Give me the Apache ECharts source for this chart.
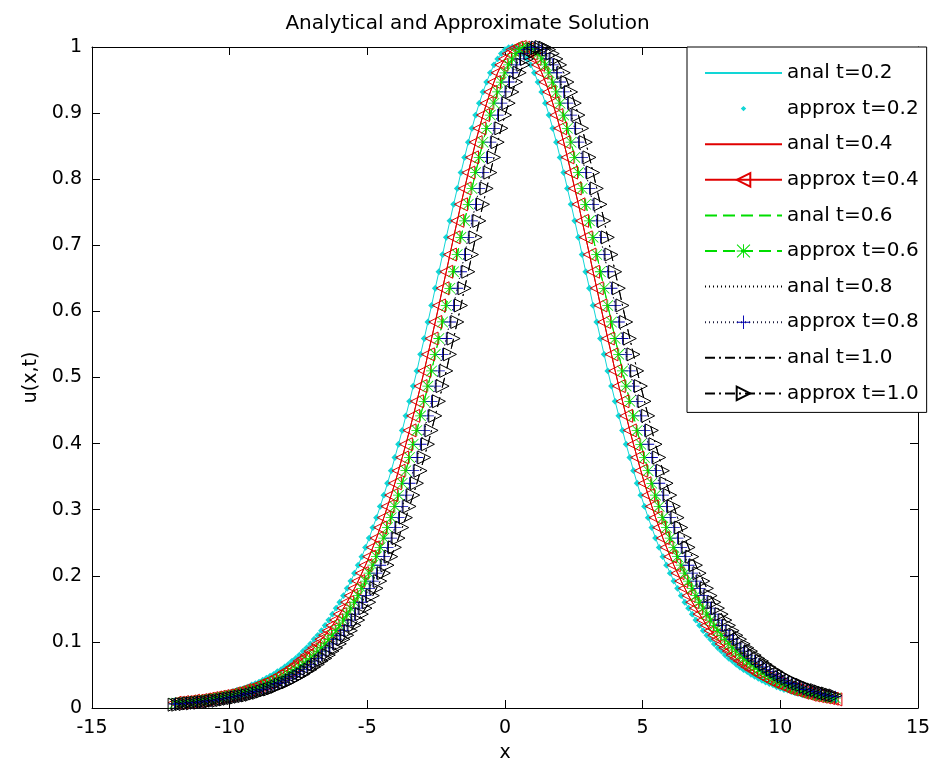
<!DOCTYPE html>
<html>
<head>
<meta charset="utf-8">
<script src="https://cdn.jsdelivr.net/npm/echarts@6.0.0/dist/echarts.min.js"></script>
<style>
html,body{margin:0;padding:0;background:#fff;}
#chart{width:935px;height:774px;}
</style>
</head>
<body>
<div id="chart"></div>
<script>
// x grid shared by all curves
var xs = [
-12,-11.867,-11.733,-11.6,-11.467,-11.333,-11.2,-11.067,-10.933,-10.8,-10.667,-10.533,-10.4,-10.267,-10.133,
-10,-9.867,-9.733,-9.6,-9.467,-9.333,-9.2,-9.067,-8.933,-8.8,-8.667,-8.533,-8.4,-8.267,-8.133,
-8,-7.867,-7.733,-7.6,-7.467,-7.333,-7.2,-7.067,-6.933,-6.8,-6.667,-6.533,-6.4,-6.267,-6.133,
-6,-5.867,-5.733,-5.6,-5.467,-5.333,-5.2,-5.067,-4.933,-4.8,-4.667,-4.533,-4.4,-4.267,-4.133,
-4,-3.867,-3.733,-3.6,-3.467,-3.333,-3.2,-3.067,-2.933,-2.8,-2.667,-2.533,-2.4,-2.267,-2.133,
-2,-1.867,-1.733,-1.6,-1.467,-1.333,-1.2,-1.067,-0.933,-0.8,-0.667,-0.533,-0.4,-0.267,-0.133,
0,0.133,0.267,0.4,0.533,0.667,0.8,0.933,1.067,1.2,1.333,1.467,1.6,1.733,1.867,
2,2.133,2.267,2.4,2.533,2.667,2.8,2.933,3.067,3.2,3.333,3.467,3.6,3.733,3.867,
4,4.133,4.267,4.4,4.533,4.667,4.8,4.933,5.067,5.2,5.333,5.467,5.6,5.733,5.867,
6,6.133,6.267,6.4,6.533,6.667,6.8,6.933,7.067,7.2,7.333,7.467,7.6,7.733,7.867,
8,8.133,8.267,8.4,8.533,8.667,8.8,8.933,9.067,9.2,9.333,9.467,9.6,9.733,9.867,
10,10.133,10.267,10.4,10.533,10.667,10.8,10.933,11.067,11.2,11.333,11.467,11.6,11.733,11.867,
12];

// u(x,t) at t = 0.2
var u02 = [
.009,.009,
.010,.011,.011,.012,.013,.014,.015,.016,.017,.018,
.019,.020,.022,.023,.025,.027,.028,.030,.032,.035,
.037,.039,.042,.045,.048,.051,.055,.058,.062,.066,
.071,.075,.080,.086,.091,.097,.104,.110,.117,.125,
.133,.142,.151,.160,.170,.181,.192,.204,.216,.229,
.243,.257,.273,.288,.305,.322,.340,.359,.379,.399,
.420,.442,.464,.487,.510,.535,.559,.584,.609,.635,
.660,.686,.712,.737,.762,.786,.810,.833,.856,.877,
.897,.915,.932,.947,.961,.973,.982,.990,.996,.999,
1,
.999,.996,.990,.982,.973,.961,.947,.932,.915,.897,
.877,.856,.833,.810,.786,.762,.737,.712,.686,.660,
.635,.609,.584,.559,.535,.510,.487,.464,.442,.420,
.399,.379,.359,.340,.322,.305,.288,.273,.257,.243,
.229,.216,.204,.192,.181,.170,.160,.151,.142,.133,
.125,.117,.110,.104,.097,.091,.086,.080,.075,.071,
.066,.062,.058,.055,.051,.048,.045,.042,.039,.037,
.035,.032,.030,.028,.027,.025,.023,.022,.020,.019,
.018,.017,.016,.015,.014,.013,.012,.011];

// u(x,t) at t = 0.4
var u04 = [
.008,.008,.009,.009,
.010,.011,.011,.012,.013,.014,.015,.016,.017,.018,
.019,.020,.022,.023,.025,.027,.028,.030,.032,.035,
.037,.039,.042,.045,.048,.051,.055,.058,.062,.066,
.071,.075,.080,.086,.091,.097,.104,.110,.117,.125,
.133,.142,.151,.160,.170,.181,.192,.204,.216,.229,
.243,.257,.273,.288,.305,.322,.340,.359,.379,.399,
.420,.442,.464,.487,.510,.535,.559,.584,.609,.635,
.660,.686,.712,.737,.762,.786,.810,.833,.856,.877,
.897,.915,.932,.947,.961,.973,.982,.990,.996,.999,
1,
.999,.996,.990,.982,.973,.961,.947,.932,.915,.897,
.877,.856,.833,.810,.786,.762,.737,.712,.686,.660,
.635,.609,.584,.559,.535,.510,.487,.464,.442,.420,
.399,.379,.359,.340,.322,.305,.288,.273,.257,.243,
.229,.216,.204,.192,.181,.170,.160,.151,.142,.133,
.125,.117,.110,.104,.097,.091,.086,.080,.075,.071,
.066,.062,.058,.055,.051,.048,.045,.042,.039,.037,
.035,.032,.030,.028,.027,.025,.023,.022,.020,.019,
.018,.017,.016,.015,.014,.013];

// u(x,t) at t = 0.6
var u06 = [
.007,.007,.008,.008,.009,.009,
.010,.011,.011,.012,.013,.014,.015,.016,.017,.018,
.019,.020,.022,.023,.025,.027,.028,.030,.032,.035,
.037,.039,.042,.045,.048,.051,.055,.058,.062,.066,
.071,.075,.080,.086,.091,.097,.104,.110,.117,.125,
.133,.142,.151,.160,.170,.181,.192,.204,.216,.229,
.243,.257,.273,.288,.305,.322,.340,.359,.379,.399,
.420,.442,.464,.487,.510,.535,.559,.584,.609,.635,
.660,.686,.712,.737,.762,.786,.810,.833,.856,.877,
.897,.915,.932,.947,.961,.973,.982,.990,.996,.999,
1,
.999,.996,.990,.982,.973,.961,.947,.932,.915,.897,
.877,.856,.833,.810,.786,.762,.737,.712,.686,.660,
.635,.609,.584,.559,.535,.510,.487,.464,.442,.420,
.399,.379,.359,.340,.322,.305,.288,.273,.257,.243,
.229,.216,.204,.192,.181,.170,.160,.151,.142,.133,
.125,.117,.110,.104,.097,.091,.086,.080,.075,.071,
.066,.062,.058,.055,.051,.048,.045,.042,.039,.037,
.035,.032,.030,.028,.027,.025,.023,.022,.020,.019,
.018,.017,.016,.015];

// u(x,t) at t = 0.8
var u08 = [
.006,.006,.007,.007,.008,.008,.009,.009,
.010,.011,.011,.012,.013,.014,.015,.016,.017,.018,
.019,.020,.022,.023,.025,.027,.028,.030,.032,.035,
.037,.039,.042,.045,.048,.051,.055,.058,.062,.066,
.071,.075,.080,.086,.091,.097,.104,.110,.117,.125,
.133,.142,.151,.160,.170,.181,.192,.204,.216,.229,
.243,.257,.273,.288,.305,.322,.340,.359,.379,.399,
.420,.442,.464,.487,.510,.535,.559,.584,.609,.635,
.660,.686,.712,.737,.762,.786,.810,.833,.856,.877,
.897,.915,.932,.947,.961,.973,.982,.990,.996,.999,
1,
.999,.996,.990,.982,.973,.961,.947,.932,.915,.897,
.877,.856,.833,.810,.786,.762,.737,.712,.686,.660,
.635,.609,.584,.559,.535,.510,.487,.464,.442,.420,
.399,.379,.359,.340,.322,.305,.288,.273,.257,.243,
.229,.216,.204,.192,.181,.170,.160,.151,.142,.133,
.125,.117,.110,.104,.097,.091,.086,.080,.075,.071,
.066,.062,.058,.055,.051,.048,.045,.042,.039,.037,
.035,.032,.030,.028,.027,.025,.023,.022,.020,.019,
.018,.017];

// u(x,t) at t = 1.0
var u10 = [
.005,.005,.006,.006,.007,.007,.008,.008,.009,.009,
.010,.011,.011,.012,.013,.014,.015,.016,.017,.018,
.019,.020,.022,.023,.025,.027,.028,.030,.032,.035,
.037,.039,.042,.045,.048,.051,.055,.058,.062,.066,
.071,.075,.080,.086,.091,.097,.104,.110,.117,.125,
.133,.142,.151,.160,.170,.181,.192,.204,.216,.229,
.243,.257,.273,.288,.305,.322,.340,.359,.379,.399,
.420,.442,.464,.487,.510,.535,.559,.584,.609,.635,
.660,.686,.712,.737,.762,.786,.810,.833,.856,.877,
.897,.915,.932,.947,.961,.973,.982,.990,.996,.999,
1,
.999,.996,.990,.982,.973,.961,.947,.932,.915,.897,
.877,.856,.833,.810,.786,.762,.737,.712,.686,.660,
.635,.609,.584,.559,.535,.510,.487,.464,.442,.420,
.399,.379,.359,.340,.322,.305,.288,.273,.257,.243,
.229,.216,.204,.192,.181,.170,.160,.151,.142,.133,
.125,.117,.110,.104,.097,.091,.086,.080,.075,.071,
.066,.062,.058,.055,.051,.048,.045,.042,.039,.037,
.035,.032,.030,.028,.027,.025,.023,.022,.020,.019];

var seriesNames = ['anal t=0.2','approx t=0.2','anal t=0.4','approx t=0.4','anal t=0.6',
                   'approx t=0.6','anal t=0.8','approx t=0.8','anal t=1.0','approx t=1.0'];
var xTicks = [-15,-10,-5,0,5,10,15];
var yTicks = [0,0.1,0.2,0.3,0.4,0.5,0.6,0.7,0.8,0.9,1];

function pts(ys){ return xs.map(function(x,i){ return [x, ys[i]]; }); }

var FONT = 'DejaVu Sans';
var CYAN = '#12d6d6', RED = '#e00000', GREEN = '#00dd00', BLUE = '#0000b4', BLACK = '#000000';
var DOT = 'path://M0,0L0.01,0L0,0.01Z M20,20L19.99,20L20,19.99Z M10,6L14,10L10,14L6,10Z';
var PLUS = 'path://M9.3,0h1.4v9.3h9.3v1.4h-9.3v9.3h-1.4v-9.3h-9.3v-1.4h9.3z';
var STAR = 'path://M9.3,0h1.4v9.3h9.3v1.4h-9.3v9.3h-1.4v-9.3h-9.3v-1.4h9.3z M0,1L1,0L20,19L19,20Z M19,0L20,1L1,20L0,19Z';
var HIDDEN = {color:'rgba(0,0,0,0)', borderWidth:0};

function anal(name, ys, color, type){
  return {name:name, type:'line', data:pts(ys), symbol:'circle', showSymbol:false,
    itemStyle:HIDDEN, lineStyle:{color:color, width:1, type:type},
    emphasis:{disabled:true}, silent:true, animation:false};
}
function approx(name, ys, sym, size, rot, itemStyle, lineStyle){
  return {name:name, type:'line', data:pts(ys), symbol:sym, symbolSize:size, symbolRotate:rot,
    showSymbol:true, itemStyle:itemStyle, lineStyle:lineStyle,
    emphasis:{disabled:true}, silent:true, animation:false};
}

var series = [
  anal(seriesNames[0], u02, CYAN, 'solid'),
  approx(seriesNames[1], u02, DOT, 17, 0, {color:CYAN}, {opacity:0, width:1}),
  anal(seriesNames[2], u04, RED, 'solid'),
  approx(seriesNames[3], u04, 'triangle', 13, 90, {color:'rgba(0,0,0,0)', borderColor:RED, borderWidth:1}, {color:RED, width:1, type:'solid'}),
  anal(seriesNames[4], u06, GREEN, [12,6]),
  approx(seriesNames[5], u06, STAR, 11, 0, {color:GREEN}, {color:GREEN, width:1, type:[12,6]}),
  anal(seriesNames[6], u08, BLACK, [1,3]),
  approx(seriesNames[7], u08, PLUS, 12, 0, {color:BLUE}, {color:'#202040', width:1, type:[1,3]}),
  anal(seriesNames[8], u10, BLACK, [10,4,2,4]),
  approx(seriesNames[9], u10, 'triangle', 13, -90, {color:'rgba(0,0,0,0)', borderColor:BLACK, borderWidth:1}, {color:BLACK, width:1, type:[10,4,2,4]})
];

var axisCommon = {
  axisLine:{show:true, onZero:false, lineStyle:{color:'#000', width:1}},
  axisTick:{show:true, inside:true, length:8, lineStyle:{color:'#000'}},
  splitLine:{show:false}
};

var chart = echarts.init(document.getElementById('chart'), null, {renderer:'canvas'});
chart.setOption({
  animation:false,
  backgroundColor:'#ffffff',
  textStyle:{fontFamily:FONT},
  title:{text:'Analytical and Approximate Solution', left:'center', top:9,
    textStyle:{fontFamily:FONT, fontSize:20, fontWeight:'normal', color:'#000'}},
  grid:{left:92, right:17, top:47, bottom:66},
  legend:{orient:'vertical', left:687, top:47, padding:[16,8,9,17],
    itemWidth:77, itemHeight:17, itemGap:15.6, selectedMode:false,
    backgroundColor:'#ffffff', borderColor:'#000', borderWidth:1,
    textStyle:{fontFamily:FONT, fontSize:20, color:'#000', lineHeight:20},
    data:seriesNames},
  xAxis:[
    Object.assign({type:'value', position:'bottom', min:xTicks[0], max:xTicks[xTicks.length-1], interval:5,
      name:'x', nameLocation:'middle', nameGap:36,
      nameTextStyle:{fontFamily:FONT, fontSize:19, color:'#000'},
      axisLabel:{fontFamily:FONT, fontSize:19, color:'#000', margin:11}}, axisCommon),
    Object.assign({type:'value', position:'top', min:xTicks[0], max:xTicks[xTicks.length-1], interval:5,
      axisLabel:{show:false}}, axisCommon)
  ],
  yAxis:[
    Object.assign({type:'value', position:'left', min:yTicks[0], max:yTicks[yTicks.length-1], interval:0.1,
      name:'u(x,t)', nameLocation:'middle', nameGap:48, nameRotate:90,
      nameTextStyle:{fontFamily:FONT, fontSize:19, color:'#000'},
      axisLabel:{fontFamily:FONT, fontSize:19, color:'#000', margin:10,
        formatter:function(v){ return String(Math.round(v*10)/10); }}}, axisCommon),
    Object.assign({type:'value', position:'right', min:yTicks[0], max:yTicks[yTicks.length-1], interval:0.1,
      axisLabel:{show:false}}, axisCommon)
  ],
  series:series
});
</script>
</body>
</html>
